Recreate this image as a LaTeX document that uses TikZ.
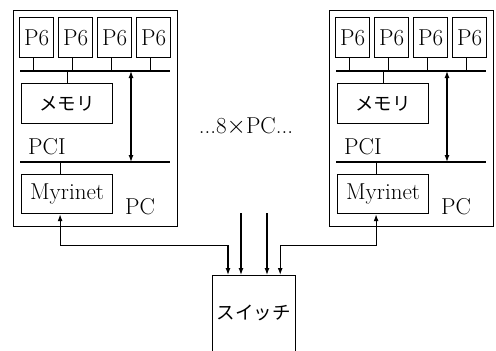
\documentclass[tikz,border=0pt]{standalone}
\usepackage{fontspec}
\newfontfamily\jp{Noto Sans CJK JP}
\usetikzlibrary{arrows.meta,calc}
\begin{document}
\begin{tikzpicture}[x=1pt,y=-1pt,
  box/.style={draw, line width=1.2pt, inner sep=0pt, anchor=north west},
  lab/.style={font=\fontsize{23}{26}\selectfont, inner sep=0pt},
  jlab/.style={font=\jp\fontsize{18.5}{21}\selectfont},
  bus/.style={line width=1.2pt},
  tip/.tip={Latex[length=7pt,width=5pt]},
  dbl/.style={line width=1.2pt, tip-tip},
  one/.style={line width=1.2pt, -tip}]
\clip (0,0) rectangle (496,351);
\foreach \s/\dx in {L/0,R/316}{
\begin{scope}[xshift=\dx pt]
  \node[box, minimum width=164pt, minimum height=216pt] (\s-pc) at (13,10) {};
  \foreach \i/\x in {1/19,2/58,3/97,4/136}{
    \node[box, lab, minimum width=34pt, minimum height=40pt] (\s-p\i) at (\x,17) {P6};
  }
  \coordinate (\s-b1a) at (20,71);
  \coordinate (\s-b1b) at (170,71);
  \draw[bus] (\s-b1a) -- (\s-b1b);
  \foreach \i in {1,2,3,4}{
    \draw[bus] ($(\s-p\i.south)+(-3,0)$) -- ($(\s-p\i.south)+(-3,14)$);
  }
  \node[box, jlab, minimum width=91pt, minimum height=40pt] (\s-mem) at (21,83) {メモリ};
  \draw[bus] (\s-mem.north) -- (\s-mem.north |- \s-b1a);
  \coordinate (\s-b2a) at (20,162);
  \coordinate (\s-b2b) at (170,162);
  \draw[bus] (\s-b2a) -- (\s-b2b);
  \node[lab, anchor=base west] (\s-pci) at (28,154) {PCI};
  \coordinate (\s-at) at (131,71);
  \coordinate (\s-ab) at (131,162);
  \draw[dbl] (\s-at) -- (\s-ab);
  \node[box, lab, minimum width=91pt, minimum height=39pt] (\s-myr) at (21,174) {Myrinet};
  \draw[bus] ($(\s-myr.north)+(-7,0)$) -- ($(\s-myr.north |- \s-b2a)+(-7,0)$);
  \node[lab] (\s-lbl) at (140,207) {PC};
\end{scope}
}
\node[lab] (dots) at (246,126) {...8$\times$PC...};
\node[box, minimum width=83pt, minimum height=78pt] (sw) at (212,275) {};
\node[jlab] (swl) at (253.5,313) {スイッチ};
\draw[dbl] ($(L-myr.south)+(-7,0)$) -- ++(0,31) -| ($(sw.north west)+(16,0)$);
\draw[dbl] ($(R-myr.south)+(-7,0)$) -- ++(0,31) -| ($(sw.north east)+(-16,0)$);
\coordinate (m1) at (241,213);
\coordinate (m2) at (267,213);
\draw[one] (m1) -- (m1 |- sw.north);
\draw[one] (m2) -- (m2 |- sw.north);
\end{tikzpicture}
\end{document}
